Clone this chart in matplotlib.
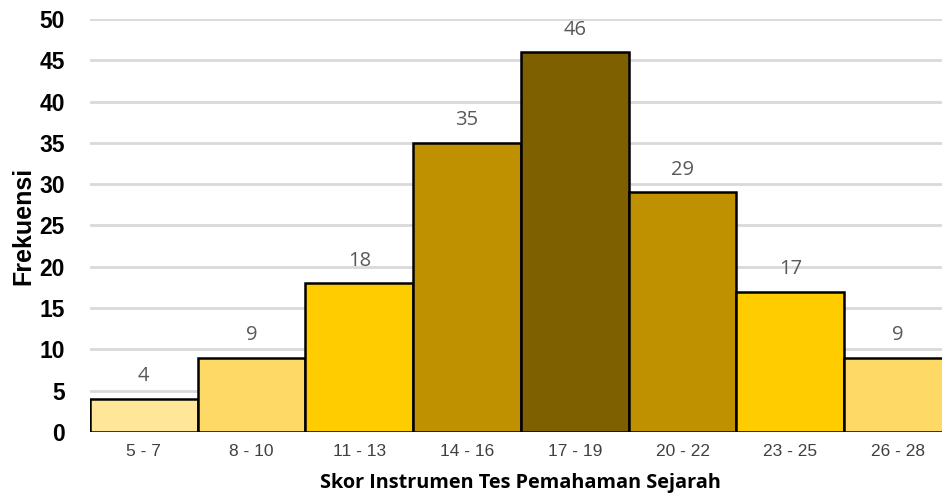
import matplotlib
matplotlib.use("Agg")
import matplotlib.pyplot as plt

# data
kelas = ["5 - 7", "8 - 10", "11 - 13", "14 - 16", "17 - 19", "20 - 22", "23 - 25", "26 - 28"]
frekuensi = [4, 9, 18, 35, 46, 29, 17, 9]
warna = ["#FFE699", "#FFD966", "#FFCC00", "#BF9000", "#7F6000", "#BF9000", "#FFCC00", "#FFD966"]

fig = plt.figure(figsize=(9.42, 4.97), dpi=100)
ax = fig.add_axes([0.0955, 0.1308, 0.915, 0.831])

x = range(len(kelas))
ax.bar(x, frekuensi, width=1.0, color=warna, edgecolor="black", linewidth=1.8, zorder=3)

for i, v in enumerate(frekuensi):
    ax.annotate(str(v), (i, v), xytext=(0, 9), textcoords="offset points",
                ha="center", va="bottom", fontsize=14.5, color="#595959",
                family=["Open Sans", "DejaVu Sans"])

ax.set_xlim(-0.5, len(kelas) - 0.5)
ax.set_ylim(0, 50)
ax.set_yticks(range(0, 51, 5))
ax.yaxis.grid(True, color="#D9D9D9", linewidth=2, zorder=0)
ax.set_axisbelow(True)

for s in ax.spines.values():
    s.set_visible(False)
ax.tick_params(axis="both", length=0)
ax.tick_params(axis="y", pad=18)
ax.tick_params(axis="x", pad=9)

ax.set_xticks(list(x))
ax.set_xticklabels(kelas, fontsize=12.5, color="#404040",
                   family=["Liberation Sans Narrow", "Liberation Sans", "DejaVu Sans"])
for lab in ax.get_yticklabels():
    lab.set_fontsize(16.5)
    lab.set_fontweight("bold")
    lab.set_family(["Liberation Sans", "DejaVu Sans"])

ax.set_ylabel("Frekuensi", fontsize=18, fontweight="bold",
              family=["Liberation Sans Narrow", "Liberation Sans", "DejaVu Sans"], labelpad=3)
fig.text(520 / 942, 1 - 483 / 497, "Skor Instrumen Tes Pemahaman Sejarah",
         ha="center", va="center", fontsize=14.3, fontweight="bold",
         family=["Open Sans", "DejaVu Sans"])

fig.savefig("out.png", dpi=100)
